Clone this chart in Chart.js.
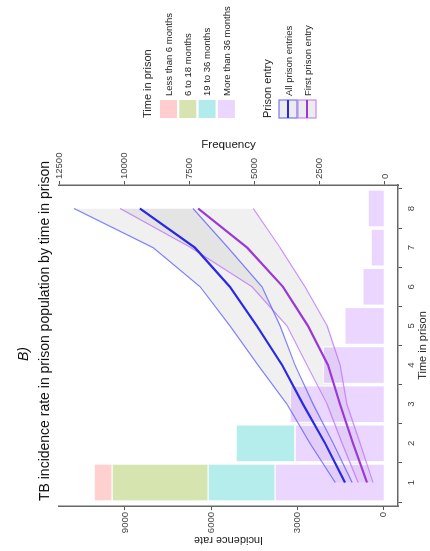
<!DOCTYPE html>
<html>
<head>
<meta charset="utf-8">
<script src="https://cdn.jsdelivr.net/npm/chart.js@4.4.1/dist/chart.umd.min.js"></script>
<style>
  html, body { margin: 0; padding: 0; background: #fff; }
  body { width: 430px; height: 551px; overflow: hidden; position: relative; }
  /* the chart is drawn upright and turned a quarter turn, like the reference */
  #giro { position: absolute; left: 0; top: 551px; width: 551px; height: 430px;
          transform-origin: 0 0; transform: rotate(-90deg); }
</style>
</head>
<body>
<div id="giro"><canvas id="grafico" width="551" height="430"></canvas></div>
<script>
const TEMPO = [1, 2, 3, 4, 5, 6, 7, 8];

// Frequency (stacked bars, right axis)
const MAIS_36 = [4215, 3450, 3640, 2375, 1535, 845, 535, 650];
const DE_19_36 = [2565, 2260, null, null, null, null, null, null];
const DE_6_18 = [3680, null, null, null, null, null, null, null];
const MENOS_6 = [690, null, null, null, null, null, null, null];

// Incidence rate (lines, left axis)
const TODAS_SUP = [1670, 2550, 3350, 4360, 5340, 6380, 8020, 10780];
const TODAS = [1330, 2020, 2790, 3520, 4400, 5340, 6560, 8480];
const TODAS_INF = [1080, 1740, 2440, 3070, 3590, 4220, 5410, 6630];
const PRIMEIRA_SUP = [870, 1430, 1950, 2650, 3350, 4570, 6700, 9170];
const PRIMEIRA = [560, 1050, 1500, 1920, 2620, 3490, 4740, 6450];
const PRIMEIRA_INF = [350, 800, 1260, 1500, 1950, 2720, 3590, 4530];

const TICKS_INCIDENCIA = [0, 3000, 6000, 9000];
const TICKS_FREQUENCIA = [0, 2500, 5000, 7500, 10000, 12500];

const ROTULOS_TEMPO = ['Less than 6 months', '6 to 18 months', '19 to 36 months', 'More than 36 months'];
const ROTULOS_ENTRADA = ['All prison entries', 'First prison entry'];

const fonte = 'Liberation Sans, Arial, Helvetica, sans-serif';
const corRosa = 'rgba(255,150,150,0.45)';
const corVerde = 'rgba(180,205,110,0.55)';
const corCiano = 'rgba(120,220,220,0.55)';
const corLilas = 'rgba(204,153,255,0.4)';
const corFaixa = 'rgba(150,150,150,0.14)';
const azulFino = 'rgba(90,90,255,0.75)';
const azulForte = 'rgb(40,40,230)';
const roxoFino = 'rgba(190,120,250,0.8)';
const roxoForte = 'rgb(155,55,215)';

function pontos(valores) {
    return TEMPO.map((t, i) => ({ x: t, y: valores[i] }));
}

function barra(rotulo, valores, cor) {
    return {
        type: 'bar', label: rotulo, data: pontos(valores), yAxisID: 'y2',
        backgroundColor: cor, borderColor: '#fff', borderWidth: 1, borderSkipped: false,
        barThickness: 37, order: 2
    };
}

function linha(rotulo, valores, cor, largura, preenche) {
    return {
        type: 'line', label: rotulo, data: pontos(valores), yAxisID: 'y',
        borderColor: cor, borderWidth: largura, pointRadius: 0, tension: 0,
        fill: preenche === undefined ? false : preenche,
        backgroundColor: corFaixa, order: 1
    };
}

const legendaManual = {
    id: 'legendaManual',
    afterDraw(chart) {
        const ctx = chart.ctx;
        ctx.save();
        ctx.textBaseline = 'middle';
        ctx.textAlign = 'center';
        ctx.fillStyle = '#111';
        ctx.font = '14px ' + fonte;
        ctx.fillText('TB incidence rate in prison population by time in prison', 220, 45);
        ctx.font = 'italic 14px ' + fonte;
        ctx.fillText('B)', 197, 24);

        ctx.textAlign = 'left';
        ctx.font = '11px ' + fonte;
        ctx.fillStyle = '#222';
        ctx.fillText('Time in prison', 433, 148);
        const cores = ['rgb(255,205,205)', 'rgb(215,228,178)', 'rgb(178,235,235)', 'rgb(234,214,255)'];
        ctx.font = '9.5px ' + fonte;
        for (let i = 0; i < 4; i++) {
            const y = 160 + i * 19.3;
            ctx.fillStyle = cores[i];
            ctx.fillRect(433, y, 18, 17);
            ctx.fillStyle = '#222';
            ctx.fillText(ROTULOS_TEMPO[i], 455, y + 9);
        }

        ctx.font = '11px ' + fonte;
        ctx.fillText('Prison entry', 433, 268);
        const bordas = [azulFino, roxoFino];
        const fortes = [azulForte, roxoForte];
        ctx.font = '9.5px ' + fonte;
        for (let i = 0; i < 2; i++) {
            const y = 279 + i * 19;
            ctx.fillStyle = '#ececec';
            ctx.fillRect(433, y, 18, 18);
            ctx.strokeStyle = bordas[i];
            ctx.lineWidth = 1.3;
            ctx.strokeRect(433, y, 18, 18);
            ctx.strokeStyle = fortes[i];
            ctx.lineWidth = 2;
            ctx.beginPath();
            ctx.moveTo(433, y + 9);
            ctx.lineTo(451, y + 9);
            ctx.stroke();
            ctx.fillStyle = '#222';
            ctx.fillText(ROTULOS_ENTRADA[i], 455, y + 10);
        }
        ctx.restore();
    }
};

const eixoBase = {
    grid: { drawOnChartArea: false, drawTicks: true, tickLength: 4, color: '#555' },
    border: { display: true, color: '#666', width: 1.5 },
    ticks: { font: { family: fonte, size: 9.5 }, color: '#444', padding: 2, callback: (v) => String(v) }
};

window.onload = function() {
    const ctx = document.getElementById('grafico').getContext('2d');
    window.grafico = new Chart(ctx, {
        type: 'bar',
        data: {
            datasets: [
                barra(ROTULOS_TEMPO[3], MAIS_36, corLilas),
                barra(ROTULOS_TEMPO[2], DE_19_36, corCiano),
                barra(ROTULOS_TEMPO[1], DE_6_18, corVerde),
                barra(ROTULOS_TEMPO[0], MENOS_6, corRosa),
                linha('All lower', TODAS_INF, azulFino, 1.2),
                linha('All upper', TODAS_SUP, azulFino, 1.2, 4),
                linha(ROTULOS_ENTRADA[0], TODAS, azulForte, 2.2),
                linha('First lower', PRIMEIRA_INF, roxoFino, 1.2),
                linha('First upper', PRIMEIRA_SUP, roxoFino, 1.2, 7),
                linha(ROTULOS_ENTRADA[1], PRIMEIRA, roxoForte, 2.2)
            ]
        },
        options: {
            responsive: false,
            animation: false,
            layout: { padding: { top: 59, left: 0, right: 138, bottom: 0 } },
            plugins: {
                legend: { display: false },
                title: { display: false },
                tooltip: { enabled: false },
                filler: { drawTime: 'beforeDatasetsDraw' }
            },
            scales: {
                x: {
                    ...eixoBase,
                    type: 'linear', position: 'bottom', min: 0.4, max: 8.6, offset: false, stacked: true,
                    ticks: { ...eixoBase.ticks, padding: 4 },
                    afterBuildTicks: (s) => { s.ticks = TEMPO.map(v => ({ value: v })); },
                    afterFit: (s) => { s.height = 32; },
                    title: { display: true, text: 'Time in prison', color: '#222',
                             font: { family: fonte, size: 11 }, padding: { top: 0, bottom: 0 } }
                },
                y: {
                    ...eixoBase,
                    position: 'left', min: -520, max: 11300, stacked: false,
                    afterBuildTicks: (s) => { s.ticks = TICKS_INCIDENCIA.map(v => ({ value: v })); },
                    afterFit: (s) => { s.width = 45; },
                    title: { display: true, text: 'Incidence rate', color: '#222',
                             font: { family: fonte, size: 11 }, padding: { top: 4, bottom: 0 } }
                },
                y2: {
                    ...eixoBase,
                    position: 'right', min: -500, max: 12500, stacked: true,
                    afterBuildTicks: (s) => { s.ticks = TICKS_FREQUENCIA.map(v => ({ value: v })); },
                    afterFit: (s) => { s.width = 47; },
                    title: { display: true, text: 'Frequency', color: '#222',
                             font: { family: fonte, size: 11.5 }, padding: { top: 0, bottom: 0 } }
                }
            }
        },
        plugins: [legendaManual]
    });
};
</script>
</body>
</html>
